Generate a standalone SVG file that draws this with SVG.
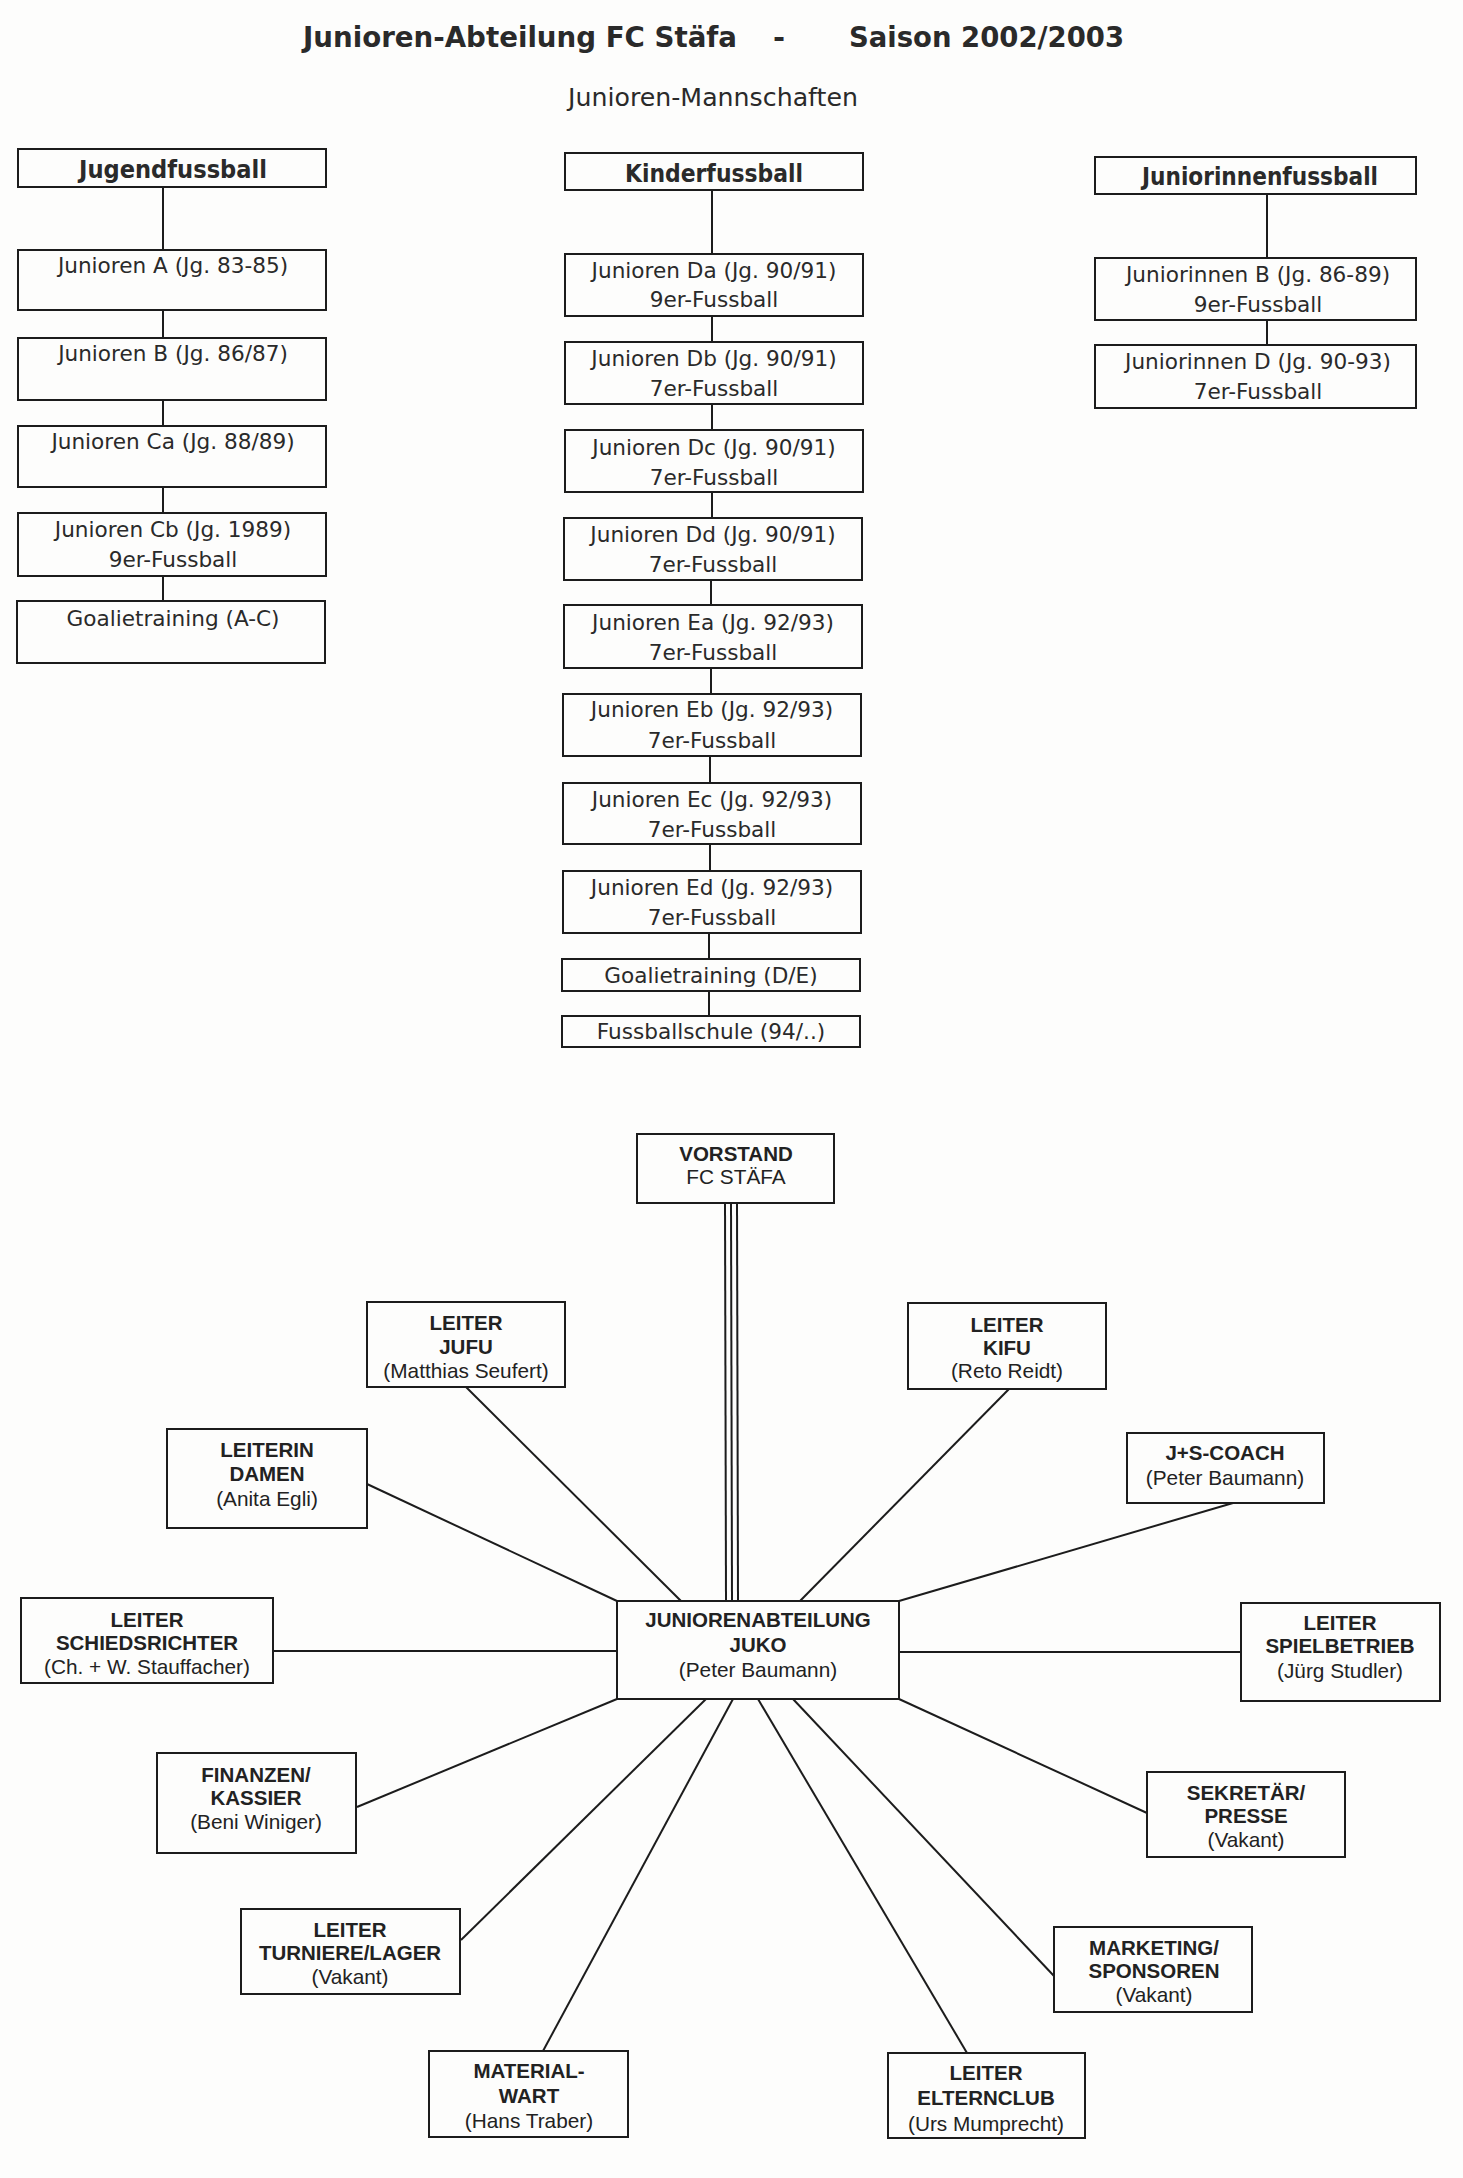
<svg xmlns="http://www.w3.org/2000/svg" width="1463" height="2178" viewBox="0 0 1463 2178">
<style>
.bx{fill:none;stroke:#1c1c1c;stroke-width:2}
.cn line{stroke:#1c1c1c;stroke-width:2}
.ttl{font-family:"DejaVu Sans",sans-serif;font-weight:bold;font-size:29px;fill:#2a2a2a}
.sub{font-family:"DejaVu Sans",sans-serif;font-size:25px;fill:#2a2a2a;text-anchor:middle}
.hd{font-family:"DejaVu Sans",sans-serif;font-weight:bold;font-size:25px;fill:#2a2a2a;text-anchor:middle}
.t{font-family:"DejaVu Sans",sans-serif;font-size:21.6px;fill:#2a2a2a;text-anchor:middle}
.b{font-family:"Liberation Sans",Arial,sans-serif;font-weight:bold;font-size:20.5px;fill:#222;text-anchor:middle}
.r{font-family:"Liberation Sans",Arial,sans-serif;font-size:20.8px;fill:#222;text-anchor:middle}
</style>
<rect x="0" y="0" width="1463" height="2178" fill="#fdfdfc"/>

<g id="title">
<text class="ttl" x="303" y="47" textLength="434" lengthAdjust="spacingAndGlyphs">Junioren-Abteilung FC Stäfa</text>
<text class="ttl" x="779" y="47" text-anchor="middle">-</text>
<text class="ttl" x="849" y="47" textLength="275" lengthAdjust="spacingAndGlyphs">Saison 2002/2003</text>
<text class="sub" x="713" y="106" textLength="290" lengthAdjust="spacingAndGlyphs">Junioren-Mannschaften</text>
</g>

<g id="connectors" class="cn">
<line x1="163" y1="187" x2="163" y2="250"/>
<line x1="163" y1="310" x2="163" y2="338"/>
<line x1="163" y1="400" x2="163" y2="426"/>
<line x1="163" y1="487" x2="163" y2="513"/>
<line x1="163" y1="576" x2="163" y2="601"/>
<line x1="712" y1="190" x2="712" y2="254"/>
<line x1="712" y1="316" x2="712" y2="342"/>
<line x1="712" y1="404" x2="712" y2="430"/>
<line x1="712" y1="492" x2="712" y2="518"/>
<line x1="711" y1="580" x2="711" y2="605"/>
<line x1="711" y1="668" x2="711" y2="694"/>
<line x1="710" y1="756" x2="710" y2="783"/>
<line x1="710" y1="844" x2="710" y2="871"/>
<line x1="709" y1="933" x2="709" y2="959"/>
<line x1="709" y1="991" x2="709" y2="1016"/>
<line x1="1267" y1="194" x2="1267" y2="258"/>
<line x1="1267" y1="320" x2="1267" y2="345"/>
<line x1="725" y1="1203" x2="726" y2="1601"/>
<line x1="731" y1="1203" x2="732" y2="1601"/>
<line x1="737" y1="1203" x2="738" y2="1601"/>
<line x1="466" y1="1387" x2="681" y2="1601"/>
<line x1="367" y1="1484" x2="617" y2="1601"/>
<line x1="273" y1="1651" x2="617" y2="1651"/>
<line x1="617" y1="1699" x2="357" y2="1807"/>
<line x1="706" y1="1699" x2="461" y2="1940"/>
<line x1="733" y1="1699" x2="543" y2="2051"/>
<line x1="758" y1="1699" x2="967" y2="2053"/>
<line x1="793" y1="1699" x2="1054" y2="1976"/>
<line x1="899" y1="1699" x2="1147" y2="1813"/>
<line x1="899" y1="1652" x2="1241" y2="1652"/>
<line x1="899" y1="1601" x2="1233" y2="1503"/>
<line x1="800" y1="1601" x2="1009" y2="1389"/>
</g>

<g id="jugendfussball"><rect class="bx" x="18" y="149" width="308" height="38"/><text class="hd" x="173" y="178" textLength="188" lengthAdjust="spacingAndGlyphs">Jugendfussball</text></g>
<g id="jun-a"><rect class="bx" x="18" y="250" width="308" height="60"/><text class="t" x="173" y="273">Junioren A (Jg. 83-85)</text></g>
<g id="jun-b"><rect class="bx" x="18" y="338" width="308" height="62"/><text class="t" x="173" y="361">Junioren B (Jg. 86/87)</text></g>
<g id="jun-ca"><rect class="bx" x="18" y="426" width="308" height="61"/><text class="t" x="173" y="449">Junioren Ca (Jg. 88/89)</text></g>
<g id="jun-cb"><rect class="bx" x="18" y="513" width="308" height="63"/><text class="t" x="173" y="537">Junioren Cb (Jg. 1989)</text><text class="t" x="173" y="567">9er-Fussball</text></g>
<g id="goalie-ac"><rect class="bx" x="17" y="601" width="308" height="62"/><text class="t" x="173" y="626">Goalietraining (A-C)</text></g>

<g id="kinderfussball"><rect class="bx" x="565" y="153" width="298" height="37"/><text class="hd" x="714" y="182" textLength="178" lengthAdjust="spacingAndGlyphs">Kinderfussball</text></g>
<g id="jun-da"><rect class="bx" x="565" y="254" width="298" height="62"/><text class="t" x="714" y="278">Junioren Da (Jg. 90/91)</text><text class="t" x="714" y="307">9er-Fussball</text></g>
<g id="jun-db"><rect class="bx" x="565" y="342" width="298" height="62"/><text class="t" x="714" y="366">Junioren Db (Jg. 90/91)</text><text class="t" x="714" y="396">7er-Fussball</text></g>
<g id="jun-dc"><rect class="bx" x="565" y="430" width="298" height="62"/><text class="t" x="714" y="455">Junioren Dc (Jg. 90/91)</text><text class="t" x="714" y="485">7er-Fussball</text></g>
<g id="jun-dd"><rect class="bx" x="564" y="518" width="298" height="62"/><text class="t" x="713" y="542">Junioren Dd (Jg. 90/91)</text><text class="t" x="713" y="572">7er-Fussball</text></g>
<g id="jun-ea"><rect class="bx" x="564" y="605" width="298" height="63"/><text class="t" x="713" y="630">Junioren Ea (Jg. 92/93)</text><text class="t" x="713" y="660">7er-Fussball</text></g>
<g id="jun-eb"><rect class="bx" x="563" y="694" width="298" height="62"/><text class="t" x="712" y="717">Junioren Eb (Jg. 92/93)</text><text class="t" x="712" y="748">7er-Fussball</text></g>
<g id="jun-ec"><rect class="bx" x="563" y="783" width="298" height="61"/><text class="t" x="712" y="807">Junioren Ec (Jg. 92/93)</text><text class="t" x="712" y="837">7er-Fussball</text></g>
<g id="jun-ed"><rect class="bx" x="563" y="871" width="298" height="62"/><text class="t" x="712" y="895">Junioren Ed (Jg. 92/93)</text><text class="t" x="712" y="925">7er-Fussball</text></g>
<g id="goalie-de"><rect class="bx" x="562" y="959" width="298" height="32"/><text class="t" x="711" y="983">Goalietraining (D/E)</text></g>
<g id="fussballschule"><rect class="bx" x="562" y="1016" width="298" height="31"/><text class="t" x="711" y="1039">Fussballschule (94/..)</text></g>

<g id="juniorinnenfussball"><rect class="bx" x="1095" y="157" width="321" height="37"/><text class="hd" x="1260" y="185" textLength="236" lengthAdjust="spacingAndGlyphs">Juniorinnenfussball</text></g>
<g id="juniorinnen-b"><rect class="bx" x="1095" y="258" width="321" height="62"/><text class="t" x="1258" y="282">Juniorinnen B (Jg. 86-89)</text><text class="t" x="1258" y="312">9er-Fussball</text></g>
<g id="juniorinnen-d"><rect class="bx" x="1095" y="345" width="321" height="63"/><text class="t" x="1258" y="369">Juniorinnen D (Jg. 90-93)</text><text class="t" x="1258" y="399">7er-Fussball</text></g>

<g id="vorstand"><rect class="bx" x="637" y="1134" width="197" height="69"/><text class="b" x="736" y="1161">VORSTAND</text><text class="r" x="736" y="1184">FC STÄFA</text></g>
<g id="juko"><rect class="bx" x="617" y="1601" width="282" height="98"/><text class="b" x="758" y="1627">JUNIORENABTEILUNG</text><text class="b" x="758" y="1652">JUKO</text><text class="r" x="758" y="1677">(Peter Baumann)</text></g>
<g id="leiter-jufu"><rect class="bx" x="367" y="1302" width="198" height="85"/><text class="b" x="466" y="1330">LEITER</text><text class="b" x="466" y="1354">JUFU</text><text class="r" x="466" y="1378">(Matthias Seufert)</text></g>
<g id="leiterin-damen"><rect class="bx" x="167" y="1429" width="200" height="99"/><text class="b" x="267" y="1457">LEITERIN</text><text class="b" x="267" y="1481">DAMEN</text><text class="r" x="267" y="1506">(Anita Egli)</text></g>
<g id="leiter-schiedsrichter"><rect class="bx" x="21" y="1598" width="252" height="85"/><text class="b" x="147" y="1627">LEITER</text><text class="b" x="147" y="1650">SCHIEDSRICHTER</text><text class="r" x="147" y="1674">(Ch. + W. Stauffacher)</text></g>
<g id="finanzen"><rect class="bx" x="157" y="1753" width="199" height="100"/><text class="b" x="256" y="1782">FINANZEN/</text><text class="b" x="256" y="1805">KASSIER</text><text class="r" x="256" y="1829">(Beni Winiger)</text></g>
<g id="leiter-turniere"><rect class="bx" x="241" y="1909" width="219" height="85"/><text class="b" x="350" y="1937">LEITER</text><text class="b" x="350" y="1960">TURNIERE/LAGER</text><text class="r" x="350" y="1984">(Vakant)</text></g>
<g id="materialwart"><rect class="bx" x="429" y="2051" width="199" height="86"/><text class="b" x="529" y="2078">MATERIAL-</text><text class="b" x="529" y="2103">WART</text><text class="r" x="529" y="2128">(Hans Traber)</text></g>
<g id="leiter-elternclub"><rect class="bx" x="888" y="2053" width="197" height="85"/><text class="b" x="986" y="2080">LEITER</text><text class="b" x="986" y="2105">ELTERNCLUB</text><text class="r" x="986" y="2131">(Urs Mumprecht)</text></g>
<g id="marketing"><rect class="bx" x="1054" y="1927" width="198" height="85"/><text class="b" x="1154" y="1955">MARKETING/</text><text class="b" x="1154" y="1978">SPONSOREN</text><text class="r" x="1154" y="2002">(Vakant)</text></g>
<g id="sekretaer"><rect class="bx" x="1147" y="1772" width="198" height="85"/><text class="b" x="1246" y="1800">SEKRETÄR/</text><text class="b" x="1246" y="1823">PRESSE</text><text class="r" x="1246" y="1847">(Vakant)</text></g>
<g id="leiter-spielbetrieb"><rect class="bx" x="1241" y="1603" width="199" height="98"/><text class="b" x="1340" y="1630">LEITER</text><text class="b" x="1340" y="1653">SPIELBETRIEB</text><text class="r" x="1340" y="1678">(Jürg Studler)</text></g>
<g id="js-coach"><rect class="bx" x="1127" y="1433" width="197" height="70"/><text class="b" x="1225" y="1460">J+S-COACH</text><text class="r" x="1225" y="1485">(Peter Baumann)</text></g>
<g id="leiter-kifu"><rect class="bx" x="908" y="1303" width="198" height="86"/><text class="b" x="1007" y="1332">LEITER</text><text class="b" x="1007" y="1355">KIFU</text><text class="r" x="1007" y="1378">(Reto Reidt)</text></g>
</svg>
